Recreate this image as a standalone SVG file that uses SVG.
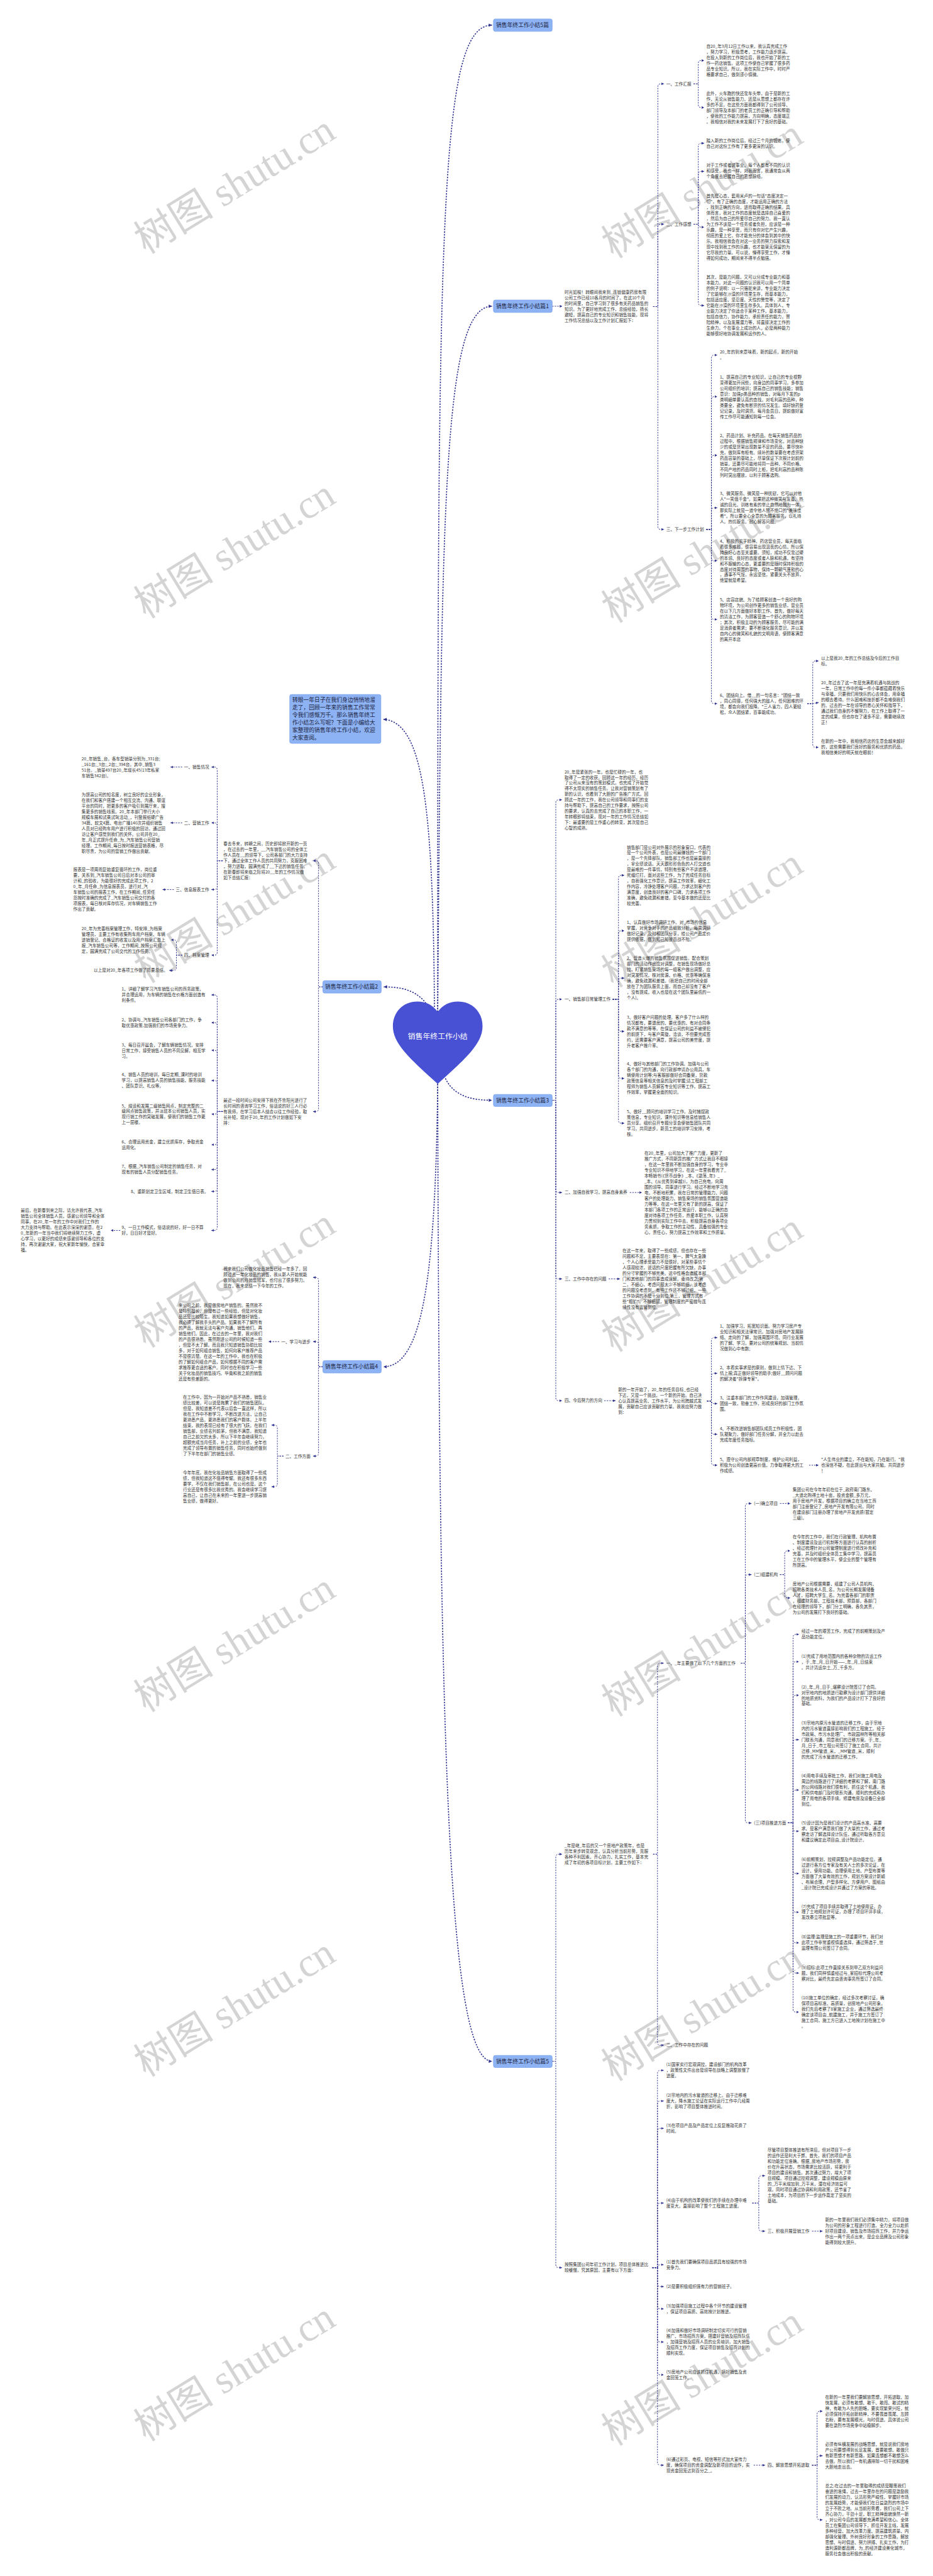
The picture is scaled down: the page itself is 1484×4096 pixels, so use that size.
<svg xmlns="http://www.w3.org/2000/svg" width="1484" height="4096" viewBox="0 0 1484 4096">
<defs>
<style>
.t{font-family:"Noto Sans CJK SC","Noto Sans",sans-serif;font-size:11.5px;fill:#333}
.e{text-anchor:end}
.bx{fill:#8db3f5;stroke:#7ca4ee;stroke-width:1.5}
.bt{font-family:"Noto Sans CJK SC","Noto Sans",sans-serif;font-size:15.2px;fill:#1d2440}
.it{font-family:"Noto Sans CJK SC","Noto Sans",sans-serif;font-size:15.2px;fill:#1d2440}
.c{fill:none;stroke:#2d3190;stroke-width:1.6;stroke-dasharray:4 3;marker-end:url(#a)}
.h{fill:none;stroke:#2d3190;stroke-width:2.8;stroke-dasharray:4 3.5;marker-end:url(#ah)}
.wm{font-family:"Liberation Serif","Noto Sans CJK SC",serif;font-size:110px;fill:#d4d4d4;text-anchor:middle;dominant-baseline:central}
</style>
<marker id="a" markerUnits="userSpaceOnUse" markerWidth="8" markerHeight="8" refX="7" refY="4" orient="auto"><path d="M0,0.5 L7,4 L0,7.5 z" fill="#2d3190"/></marker>
<marker id="ah" markerUnits="userSpaceOnUse" markerWidth="11" markerHeight="11" refX="9" refY="5.5" orient="auto"><path d="M0,1 L9,5.5 L0,10 z" fill="#2d3190"/></marker>
</defs>
<rect width="1484" height="4096" fill="#fff"/>
<g transform="scale(0.579688)">
<g id="watermarks">
<text class="wm" transform="translate(644,506) rotate(-31.5)">树图 shutu.cn</text>
<text class="wm" transform="translate(1927,518) rotate(-31.5)">树图 shutu.cn</text>
<text class="wm" transform="translate(644,1506) rotate(-31.5)">树图 shutu.cn</text>
<text class="wm" transform="translate(1927,1518) rotate(-31.5)">树图 shutu.cn</text>
<text class="wm" transform="translate(644,2506) rotate(-31.5)">树图 shutu.cn</text>
<text class="wm" transform="translate(1927,2518) rotate(-31.5)">树图 shutu.cn</text>
<text class="wm" transform="translate(644,3506) rotate(-31.5)">树图 shutu.cn</text>
<text class="wm" transform="translate(1927,3518) rotate(-31.5)">树图 shutu.cn</text>
<text class="wm" transform="translate(644,4506) rotate(-31.5)">树图 shutu.cn</text>
<text class="wm" transform="translate(1927,4518) rotate(-31.5)">树图 shutu.cn</text>
<text class="wm" transform="translate(644,5506) rotate(-31.5)">树图 shutu.cn</text>
<text class="wm" transform="translate(1927,5518) rotate(-31.5)">树图 shutu.cn</text>
<text class="wm" transform="translate(644,6506) rotate(-31.5)">树图 shutu.cn</text>
<text class="wm" transform="translate(1927,6518) rotate(-31.5)">树图 shutu.cn</text>
</g>

<g id="connectors">
<!-- heart connectors -->
<path class="h" d="M1201 2776 C1201 600 1205 69 1350 69"/>
<path class="h" d="M1201 2776 C1212 1400 1214 840 1350 840"/>
<path class="h" d="M1192 2762 C1188 2200 1160 1980 1052 1973"/>
<path class="h" d="M1169 2752 C1140 2715 1100 2707 1053 2707"/>
<path class="h" d="M1222 2958 C1245 3005 1290 3018 1350 3018"/>
<path class="h" d="M1201 2973 C1195 3500 1160 3749 1052 3749"/>
<path class="h" d="M1201 2973 C1205 4800 1230 5654 1350 5654"/>
<!-- 篇1 -->
<path class="c" d="M1515 840 H1543"/>
<path class="c" d="M1792 841 H1805 V238 Q1805 230 1813 230 H1822"/>
<path class="c" d="M1792 841 H1805 V623 Q1805 615 1813 615 H1822"/>
<path class="c" d="M1792 841 H1805 V1444 Q1805 1452 1813 1452 H1822"/>
<path class="c" d="M1903 230 H1916 V174 Q1916 166 1924 166 H1932"/>
<path class="c" d="M1903 230 H1916 V287 Q1916 295 1924 295 H1932"/>
<path class="c" d="M1903 615 H1916 V401 Q1916 393 1924 393 H1932"/>
<path class="c" d="M1903 615 H1916 V478 Q1916 470 1924 470 H1932"/>
<path class="c" d="M1903 615 H1916 Q1916 623 1924 623 H1932"/>
<path class="c" d="M1903 615 H1916 V830 Q1916 838 1924 838 H1932"/>
<path class="c" d="M1938 1452 H1952 V982 Q1952 974 1960 974 H1968"/>
<path class="c" d="M1938 1452 H1952 V1096 Q1952 1088 1960 1088 H1968"/>
<path class="c" d="M1938 1452 H1952 V1257 Q1952 1249 1960 1249 H1968"/>
<path class="c" d="M1938 1452 H1952 V1401 Q1952 1393 1960 1393 H1968"/>
<path class="c" d="M1938 1452 H1952 V1530 Q1952 1538 1960 1538 H1968"/>
<path class="c" d="M1938 1452 H1952 V1691 Q1952 1699 1960 1699 H1968"/>
<path class="c" d="M1938 1452 H1952 V1922 Q1952 1930 1960 1930 H1968"/>
<path class="c" d="M2215 1930 H2230 V1821 Q2230 1813 2238 1813 H2246"/>
<path class="c" d="M2215 1930 H2230 L2246 1927"/>
<path class="c" d="M2215 1930 H2230 V2042 Q2230 2050 2238 2050 H2246"/>
<!-- 篇3 -->
<path class="c" d="M1515 3018 H1525 V2202 Q1525 2194 1533 2194 H1542"/>
<path class="c" d="M1515 3018 H1525 V2749 Q1525 2741 1533 2741 H1542"/>
<path class="c" d="M1515 3018 H1525 V3263 Q1525 3271 1533 3271 H1542"/>
<path class="c" d="M1515 3018 H1525 V3500 Q1525 3508 1533 3508 H1542"/>
<path class="c" d="M1515 3018 H1525 V3834 Q1525 3842 1533 3842 H1542"/>
<path class="c" d="M1681 2741 H1697 V2409 Q1697 2401 1705 2401 H1713"/>
<path class="c" d="M1681 2741 H1697 V2561 Q1697 2553 1705 2553 H1713"/>
<path class="c" d="M1681 2741 H1697 V2691 Q1697 2683 1705 2683 H1713"/>
<path class="c" d="M1681 2741 H1697 V2821 Q1697 2829 1705 2829 H1713"/>
<path class="c" d="M1681 2741 H1697 V2950 Q1697 2958 1705 2958 H1713"/>
<path class="c" d="M1681 2741 H1697 V3073 Q1697 3081 1705 3081 H1713"/>
<path class="c" d="M1728 3271 H1761"/>
<path class="c" d="M1670 3508 H1701"/>
<path class="c" d="M1658 3842 H1689"/>
<path class="c" d="M1940 3843 H1952 V3677 Q1952 3669 1960 3669 H1968"/>
<path class="c" d="M1940 3843 H1952 V3775 Q1952 3767 1960 3767 H1968"/>
<path class="c" d="M1940 3843 H1952 Q1952 3850 1960 3850 H1968"/>
<path class="c" d="M1940 3843 H1952 V3926 Q1952 3934 1960 3934 H1968"/>
<path class="c" d="M1940 3843 H1952 V4011 Q1952 4019 1960 4019 H1968"/>
<path class="c" d="M2220 4019 H2246"/>
<!-- 篇5 -->
<path class="c" d="M1515 5654 H1525 V5094 Q1525 5086 1533 5086 H1542"/>
<path class="c" d="M1515 5654 H1525 V6212 Q1525 6220 1533 6220 H1542"/>
<path class="c" d="M1792 5086 H1804 V4570 Q1804 4562 1812 4562 H1821"/>
<path class="c" d="M1792 5086 H1804 V5602 Q1804 5610 1812 5610 H1821"/>
<path class="c" d="M2033 4562 H2045 V4132 Q2045 4124 2053 4124 H2062"/>
<path class="c" d="M2033 4562 H2045 V4327 Q2045 4319 2053 4319 H2062"/>
<path class="c" d="M2033 4562 H2045 V4992 Q2045 5000 2053 5000 H2062"/>
<path class="c" d="M2140 4124 H2168"/>
<path class="c" d="M2140 4319 H2153 V4262 Q2153 4254 2161 4254 H2168"/>
<path class="c" d="M2140 4319 H2153 V4375 Q2153 4383 2161 4383 H2168"/>
<path class="c" d="M2162 5000 H2176 V4491 Q2176 4483 2184 4483 H2192"/>
<path class="c" d="M2162 5000 H2176 V4566 Q2176 4558 2184 4558 H2192"/>
<path class="c" d="M2162 5000 H2176 V4658 Q2176 4650 2184 4650 H2192"/>
<path class="c" d="M2162 5000 H2176 V4780 Q2176 4772 2184 4772 H2192"/>
<path class="c" d="M2162 5000 H2176 V4918 Q2176 4910 2184 4910 H2192"/>
<path class="c" d="M2162 5000 H2176 V5015 Q2176 5023 2184 5023 H2192"/>
<path class="c" d="M2162 5000 H2176 V5131 Q2176 5139 2184 5139 H2192"/>
<path class="c" d="M2162 5000 H2176 V5237 Q2176 5245 2184 5245 H2192"/>
<path class="c" d="M2162 5000 H2176 V5321 Q2176 5329 2184 5329 H2192"/>
<path class="c" d="M2162 5000 H2176 V5404 Q2176 5412 2184 5412 H2192"/>
<path class="c" d="M2162 5000 H2176 V5511 Q2176 5519 2184 5519 H2192"/>
<path class="c" d="M1790 6220 H1804 V5687 Q1804 5679 1812 5679 H1821"/>
<path class="c" d="M1790 6220 H1804 V5771 Q1804 5763 1812 5763 H1821"/>
<path class="c" d="M1790 6220 H1804 V5846 Q1804 5838 1812 5838 H1821"/>
<path class="c" d="M1790 6220 H1804 V6051 Q1804 6043 1812 6043 H1821"/>
<path class="c" d="M1790 6220 H1804 Q1804 6212 1812 6212 H1821"/>
<path class="c" d="M1790 6220 H1804 V6264 Q1804 6272 1812 6272 H1821"/>
<path class="c" d="M1790 6220 H1804 V6325 Q1804 6333 1812 6333 H1821"/>
<path class="c" d="M1790 6220 H1804 V6416 Q1804 6424 1812 6424 H1821"/>
<path class="c" d="M1790 6220 H1804 V6506 Q1804 6514 1812 6514 H1821"/>
<path class="c" d="M1790 6220 H1804 V6754 Q1804 6762 1812 6762 H1821"/>
<path class="c" d="M2064 6043 H2082 V5976 Q2082 5968 2090 5968 H2099"/>
<path class="c" d="M2064 6043 H2082 V6112 Q2082 6120 2090 6120 H2099"/>
<path class="c" d="M2228 6120 H2257"/>
<path class="c" d="M2068 6762 H2099"/>
<path class="c" d="M2228 6762 H2242 V6622 Q2242 6614 2250 6614 H2257"/>
<path class="c" d="M2228 6762 H2242 V6744 Q2242 6736 2250 6736 H2257"/>
<path class="c" d="M2228 6762 H2242 V6904 Q2242 6912 2250 6912 H2257"/>
<!-- 篇2 -->
<path class="c" d="M886 2707 H874 V2369 Q874 2361 866 2361 H859"/>
<path class="c" d="M886 2707 H874 V3041 Q874 3049 866 3049 H859"/>
<path class="c" d="M611 2361 H596 V2112 Q596 2104 588 2104 H580"/>
<path class="c" d="M611 2361 H596 V2265 Q596 2257 588 2257 H580"/>
<path class="c" d="M611 2361 H596 V2432 Q596 2440 588 2440 H580"/>
<path class="c" d="M611 2361 H596 V2612 Q596 2620 588 2620 H580"/>
<path class="c" d="M500 2104 H468"/>
<path class="c" d="M500 2257 H468"/>
<path class="c" d="M477 2440 H446"/>
<path class="c" d="M500 2620 H484 V2586 Q484 2578 476 2578 H469"/>
<path class="c" d="M500 2620 H484 V2654 Q484 2662 476 2662 H465"/>
<path class="c" d="M611 3049 H596 V2737 Q596 2729 588 2729 H580"/>
<path class="c" d="M611 3049 H596 V2813 Q596 2805 588 2805 H580"/>
<path class="c" d="M611 3049 H596 V2889 Q596 2881 588 2881 H580"/>
<path class="c" d="M611 3049 H596 V2972 Q596 2964 588 2964 H580"/>
<path class="c" d="M611 3049 H596 Q596 3056 588 3056 H580"/>
<path class="c" d="M611 3049 H596 V3132 Q596 3140 588 3140 H580"/>
<path class="c" d="M611 3049 H596 V3200 Q596 3208 588 3208 H580"/>
<path class="c" d="M611 3049 H596 V3260 Q596 3268 588 3268 H580"/>
<path class="c" d="M611 3049 H596 V3367 Q596 3375 588 3375 H580"/>
<path class="c" d="M330 3375 H304"/>
<!-- 篇4 -->
<path class="c" d="M886 3749 H874 V3512 Q874 3504 866 3504 H859"/>
<path class="c" d="M886 3749 H874 V3688 Q874 3680 866 3680 H859"/>
<path class="c" d="M886 3749 H874 V3986 Q874 3994 866 3994 H859"/>
<path class="c" d="M766 3680 H737"/>
<path class="c" d="M778 3994 H761 V3917 Q761 3909 753 3909 H745"/>
<path class="c" d="M778 3994 H761 V4070 Q761 4078 753 4078 H745"/>
</g>

<g id="center">
<path d="M1201 2776 C1188 2756 1168 2747 1145 2747 C1106 2747 1078 2776 1078 2815 C1078 2862 1122 2902 1201 2973 C1280 2902 1324 2862 1324 2815 C1324 2776 1296 2747 1257 2747 C1234 2747 1214 2756 1201 2776 Z" fill="#4850d4"/>
<text x="1201" y="2849" text-anchor="middle" style="font-family:'Noto Sans CJK SC',sans-serif;font-size:20.5px;fill:#fff">销售年终工作小结</text>
</g>

<g id="intro">
<rect class="bx" x="795" y="1905" width="250" height="134" rx="5"/>
<text class="it"><tspan x="802" y="1926">转眼一年日子在我们身边悄悄地溜</tspan><tspan x="802" dy="20.4">走了，回顾一年来的销售工作常常</tspan><tspan x="802" dy="20.4">令我们感慨万千。那么销售年终工</tspan><tspan x="802" dy="20.4">作小结怎么写呢？下面是小编给大</tspan><tspan x="802" dy="20.4">家整理的销售年终工作小结，欢迎</tspan><tspan x="802" dy="20.4">大家查阅。</tspan></text>
</g>

<g id="branch-top">
<rect class="bx" x="1354" y="52" width="161" height="34" rx="5"/>
<text class="bt" x="1361" y="74.5">销售年终工作小结5篇</text>
</g>

<g id="branch-1">
<rect class="bx" x="1354" y="823" width="161" height="34" rx="5"/>
<text class="bt" x="1361" y="845.5">销售年终工作小结篇1</text>
<text class="t"><tspan x="1549" y="806">时光如梭！转眼间我来到_连锁健康药房有限</tspan><tspan x="1549" dy="15.5">公司工作已经10各月的时间了。在这10个月</tspan><tspan x="1549" dy="15.5">的时间里，自己学习到了很多有关药品销售的</tspan><tspan x="1549" dy="15.5">知识。为了更好地完成工作，总结经验，扬长</tspan><tspan x="1549" dy="15.5">避短，提高自己的专业知识和销售技能，现将</tspan><tspan x="1549" dy="15.5">工作情况总结以及工作计划汇报如下：</tspan></text>
<text class="t" x="1828" y="234">一、工作汇报</text>
<text class="t" x="1828" y="619">二、工作感想</text>
<text class="t" x="1828" y="1456">三、下一步工作计划</text>
<text class="t"><tspan x="1938" y="131">自20_年3月12日工作以来，我认真完成工作</tspan><tspan x="1938" dy="15.5">，努力学习，积极思考，工作能力逐步提高。</tspan><tspan x="1938" dy="15.5">在投入到新的工作岗位后，我也开始了新的工</tspan><tspan x="1938" dy="15.5">作一药店销售。这项工作使自己掌握了很多药</tspan><tspan x="1938" dy="15.5">品专业知识。所以，我在实际工作中，时时严</tspan><tspan x="1938" dy="15.5">格要求自己，做到谨小慎微。</tspan></text>
<text class="t"><tspan x="1938" y="260">此外，火车跑的快还靠车头带，由于是新的工</tspan><tspan x="1938" dy="15.5">作，无论从销售能力，还是从思想上都存在许</tspan><tspan x="1938" dy="15.5">多的不足，在这些方面我都得到了公司领导、</tspan><tspan x="1938" dy="15.5">部门领导及本部门的老员工的正确引导和帮助</tspan><tspan x="1938" dy="15.5">，使我的工作能力提高，方向明确，态度端正</tspan><tspan x="1938" dy="15.5">。我相信对我的未来发展打下了良好的基础。</tspan></text>
<text class="t"><tspan x="1938" y="390">踏入新的工作岗位后，经过三个月的锻炼，使</tspan><tspan x="1938" dy="15.5">自己对这份工作有了更多更深的认识。</tspan></text>
<text class="t"><tspan x="1938" y="458">对于工作或者说事业，每个人都有不同的认识</tspan><tspan x="1938" dy="15.5">和感受，我也一样。对我而言，我通常会从两</tspan><tspan x="1938" dy="15.5">个角度去把握自己的思想脉络。</tspan></text>
<text class="t"><tspan x="1938" y="542">首先是心态，套用米卢的一句话"态度决定一</tspan><tspan x="1938" dy="15.5">切"，有了正确的态度，才能运用正确的方法</tspan><tspan x="1938" dy="15.5">，找到正确的方向，进而取得正确的结果。具</tspan><tspan x="1938" dy="15.5">体而言，我对工作的态度就是选择自己喜爱的</tspan><tspan x="1938" dy="15.5">，然后为自己的所爱尽自己的努力。我一直认</tspan><tspan x="1938" dy="15.5">为工作不该是一个任务或者负担，应该是一种</tspan><tspan x="1938" dy="15.5">乐趣，是一种享受，而只有你对它产生兴趣，</tspan><tspan x="1938" dy="15.5">彻底的爱上它，你才能充分的体会到其中的快</tspan><tspan x="1938" dy="15.5">乐。我相信我会在对这一业务的努力探索和发</tspan><tspan x="1938" dy="15.5">现中找到我工作的乐趣，也才能毫无保留的为</tspan><tspan x="1938" dy="15.5">它尽我的力量。可以说，懂得享受工作，才懂</tspan><tspan x="1938" dy="15.5">得如何成功，期间来不得半点勉强。</tspan></text>
<text class="t"><tspan x="1938" y="764">其次，是能力问题，又可以分成专业能力和基</tspan><tspan x="1938" dy="15.5">本能力。对这一问题的认识我可以用一个简单</tspan><tspan x="1938" dy="15.5">的例子说明：以一只骆驼来讲，专业能力决定</tspan><tspan x="1938" dy="15.5">了它能够在沙漠的环境里生存，而基本能力，</tspan><tspan x="1938" dy="15.5">包括适应度、坚忍度、天性的警觉等，决定了</tspan><tspan x="1938" dy="15.5">它能在沙漠的环境里生存多久。具体到人，专</tspan><tspan x="1938" dy="15.5">业能力决定了你适合于某种工作，基本能力，</tspan><tspan x="1938" dy="15.5">包括自信力，协作能力，承担责任的能力，冒</tspan><tspan x="1938" dy="15.5">险精神，以及发展潜力等，将直接决定工作的</tspan><tspan x="1938" dy="15.5">生命力。个在事业上成功的人，必是两种能力</tspan><tspan x="1938" dy="15.5">能够很好地协调发展和运作的人。</tspan></text>
<text class="t"><tspan x="1975" y="970">20_年的到来意味着，新的起点，新的开始</tspan><tspan x="1975" dy="15.5">。</tspan></text>
<text class="t"><tspan x="1975" y="1038">1、提高自己的专业知识，让自己的专业视野</tspan><tspan x="1975" dy="15.5">变得更加开阔些，向身边的同事学习，多参加</tspan><tspan x="1975" dy="15.5">公司组织的培训；提高自己的销售技能；销售</tspan><tspan x="1975" dy="15.5">意识：加强p类品种的销售，对每月下发的p</tspan><tspan x="1975" dy="15.5">类明细单要认真的查找。对毛利高的品种，种</tspan><tspan x="1975" dy="15.5">类要全，避免有断货的情况发生。填好缺药登</tspan><tspan x="1975" dy="15.5">记记录，及时调货。每月会员日，提前做好宣</tspan><tspan x="1975" dy="15.5">传工作尽可能通知到每一位会。</tspan></text>
<text class="t"><tspan x="1975" y="1199">2、药品计划、补充药品。在每天销售药品的</tspan><tspan x="1975" dy="15.5">过程中，根据销售规律和市场变化，对品种缺</tspan><tspan x="1975" dy="15.5">少的或是货架出现数量不足的药品，要尽快补</tspan><tspan x="1975" dy="15.5">充，做到库有柜有。续补的数量要在考虑货架</tspan><tspan x="1975" dy="15.5">药品容量的基础上，尽量保证下次报计划前的</tspan><tspan x="1975" dy="15.5">销量。还要尽可能地将同一品种、不同价格、</tspan><tspan x="1975" dy="15.5">不同产地的药品同时上柜，把毛利高的品种陈</tspan><tspan x="1975" dy="15.5">列时突出摆放，以利于顾客选购。</tspan></text>
<text class="t"><tspan x="1975" y="1358">3、微笑服务、微笑是一种抚慰，它可以对他</tspan><tspan x="1975" dy="15.5">人"一笑值千金"。如果把这种微笑与友善、热</tspan><tspan x="1975" dy="15.5">诚的目光、训练有素的举止自然地融为一体，</tspan><tspan x="1975" dy="15.5">那实际上就是一道令他人赞不绝口的"美味佳</tspan><tspan x="1975" dy="15.5">肴"。所以要全心全意的为顾客服务，以礼待</tspan><tspan x="1975" dy="15.5">人。热情服务。耐心解答问题。</tspan></text>
<text class="t"><tspan x="1975" y="1488">4、积极的实干精神。药店营业员，每天面临</tspan><tspan x="1975" dy="15.5">着很多难题，很容易出现沮丧的心情，所以保</tspan><tspan x="1975" dy="15.5">持良好心态至关重要。须知，成功不仅靠过硬</tspan><tspan x="1975" dy="15.5">的本领、良好的态度或者人脉和机遇，有坚持</tspan><tspan x="1975" dy="15.5">和不服输的心态，更重要的是随时保持积极的</tspan><tspan x="1975" dy="15.5">态度对待周围的事物，保持一颗朝气蓬勃的心</tspan><tspan x="1975" dy="15.5">，遇事不气馁，永远坚信，紧要关头不放弃，</tspan><tspan x="1975" dy="15.5">绝望就是希望。</tspan></text>
<text class="t"><tspan x="1975" y="1649">5、店容店貌、为了给顾客创造一个良好的购</tspan><tspan x="1975" dy="15.5">物环境，为公司创作更多的销售业绩，营业员</tspan><tspan x="1975" dy="15.5">在以下几方面做好本职工作。首先，做好每天</tspan><tspan x="1975" dy="15.5">的清洁工作，为顾客营造一个舒心的购物环境</tspan><tspan x="1975" dy="15.5">；其次，积极主动的为顾客服务，尽可能的满</tspan><tspan x="1975" dy="15.5">足消费者需求；要不断强化服务意识，并以发</tspan><tspan x="1975" dy="15.5">自内心的微笑和礼貌的文明用语，使顾客满意</tspan><tspan x="1975" dy="15.5">的离开本店</tspan></text>
<text class="t"><tspan x="1975" y="1911">6、团结向上。借__的一句名言："团结一致</tspan><tspan x="1975" dy="15.5">，同心同德，任何强大的敌人，任何困难的环</tspan><tspan x="1975" dy="15.5">境，都会向我们投降。"三人省力，四人更轻</tspan><tspan x="1975" dy="15.5">松，众人团结紧，百事能成功。</tspan></text>
<text class="t"><tspan x="2253" y="1809">以上是我20_年的工作总结及今后的工作目</tspan><tspan x="2253" dy="15.5">标。</tspan></text>
<text class="t"><tspan x="2253" y="1877">20_年过去了这一年是充满着机遇与挑战的</tspan><tspan x="2253" dy="15.5">一年，日常工作中的每一件小事都蕴藏着快乐</tspan><tspan x="2253" dy="15.5">与幸福，只要我们用快乐的心去体会，用幸福</tspan><tspan x="2253" dy="15.5">的眼去看待。什么困难和挫折都不会难倒我们</tspan><tspan x="2253" dy="15.5">的。过去的一年在领导的悉心关怀和指导下，</tspan><tspan x="2253" dy="15.5">通过我们自身的不懈努力，在工作上取得了一</tspan><tspan x="2253" dy="15.5">定的成果，但也存在了诸多不足，需要继续改</tspan><tspan x="2253" dy="15.5">正！</tspan></text>
<text class="t"><tspan x="2253" y="2038">在新的一年中，我相信药店的生意会越来越好</tspan><tspan x="2253" dy="15.5">的，这些需要我们良好的服务和优质的药品，</tspan><tspan x="2253" dy="15.5">我相信美好的明天就在眼前！</tspan></text>
</g>

<g id="branch-3">
<rect class="bx" x="1354" y="3002" width="161" height="33" rx="5"/>
<text class="bt" x="1361" y="3024">销售年终工作小结篇3</text>
<text class="t"><tspan x="1549" y="2121">20_年是紧张的一年，也是忙碌的一年，也</tspan><tspan x="1549" dy="15.5">取得了一定的收获。回顾这一年的经历，经历</tspan><tspan x="1549" dy="15.5">了公司从来没有的策划模式，也完成了开始觉</tspan><tspan x="1549" dy="15.5">得不太现实的销售任务。让我对营销策划有了</tspan><tspan x="1549" dy="15.5">新的认识，也看到了大胆的广告推广方式。回</tspan><tspan x="1549" dy="15.5">顾这一年的工作，我在公司领导和同事们的支</tspan><tspan x="1549" dy="15.5">持与帮助下，提高自己的工作要求，按照公司</tspan><tspan x="1549" dy="15.5">的要求，认真的去完成了自己的本职工作，一</tspan><tspan x="1549" dy="15.5">年转眼即将结束，现对一年的工作情况总结如</tspan><tspan x="1549" dy="15.5">下：最重要的是工作重心的转变，其次是自己</tspan><tspan x="1549" dy="15.5">心智的成熟。</tspan></text>
<text class="t" x="1549" y="2745">一、销售部日常管理工作</text>
<text class="t" x="1549" y="3275">二、加强自我学习，提高自身素养</text>
<text class="t" x="1549" y="3512">三、工作中存在的问题</text>
<text class="t" x="1549" y="3846">四、今后努力的方向</text>
<text class="t"><tspan x="1720" y="2328">销售部门是公司对外展示的形象窗口，代表的</tspan><tspan x="1720" dy="15.5">是一个公司外表，也是公司最赚钱的一个部门</tspan><tspan x="1720" dy="15.5">，是一个先锋部队。销售部工作也是最直接的</tspan><tspan x="1720" dy="15.5">，拿业绩说话。天天跟形形色色的人打交道也</tspan><tspan x="1720" dy="15.5">是最难的一件事情，特别有些客户不讲道理，</tspan><tspan x="1720" dy="15.5">死缠烂打。面对这些工作，为了完成任务目标</tspan><tspan x="1720" dy="15.5">，自我强化工作意识，提高工作效率，细化工</tspan><tspan x="1720" dy="15.5">作内容，冷静处理客户问题，力求达到客户的</tspan><tspan x="1720" dy="15.5">满意度，创造良好的客户口碑，力求各项工作</tspan><tspan x="1720" dy="15.5">准确，避免疏漏和差错，至今基本做的还是比</tspan><tspan x="1720" dy="15.5">较完善。</tspan></text>
<text class="t"><tspan x="1720" y="2534">1、认真做好市场调研工作。对_市场的信息</tspan><tspan x="1720" dy="15.5">掌握，对竞争对手的产品细致分析，每周调研</tspan><tspan x="1720" dy="15.5">做好记录，及时和团队分享，给公司产品定价</tspan><tspan x="1720" dy="15.5">提供依据，做到知己知彼百战不殆。</tspan></text>
<text class="t"><tspan x="1720" y="2633">2、营造火爆的销售氛围促进销售。配合策划</tspan><tspan x="1720" dy="15.5">部门的活动作出应对调整，在销售现场做好总</tspan><tspan x="1720" dy="15.5">控，盯紧销售案场的每一组客户做出调整，应</tspan><tspan x="1720" dy="15.5">对突发情况，核对房源、价格、优惠等确保准</tspan><tspan x="1720" dy="15.5">确，避免疏漏和差错。(我把自己的时间全部</tspan><tspan x="1720" dy="15.5">放在了为团队服务上面，而自己却没有了客户</tspan><tspan x="1720" dy="15.5">，没有提成，收入也是在这个团队里最低的一</tspan><tspan x="1720" dy="15.5">个人)。</tspan></text>
<text class="t"><tspan x="1720" y="2794">3、做好客户问题的处理。客户多了什么样的</tspan><tspan x="1720" dy="15.5">情况都有，要退房的、要优惠的、有对合同条</tspan><tspan x="1720" dy="15.5">款不满意的等等。在保证公司的利益不被侵犯</tspan><tspan x="1720" dy="15.5">的前提下，与客户周旋，洽谈，不但要完成签</tspan><tspan x="1720" dy="15.5">约，还需要客户满意，提高公司的美誉度，提</tspan><tspan x="1720" dy="15.5">升老客户推介率。</tspan></text>
<text class="t"><tspan x="1720" y="2923">4、做好与其他部门的工作协调。加强与公司</tspan><tspan x="1720" dy="15.5">各个部门的沟通，向行政部申请办公用具，车</tspan><tspan x="1720" dy="15.5">辆使用计划等;与客服部做好合同备案，贷款</tspan><tspan x="1720" dy="15.5">政策信息等相关信息的及时掌握;请工程部工</tspan><tspan x="1720" dy="15.5">程师为销售人员解答专业知识等工作，提高工</tspan><tspan x="1720" dy="15.5">作效率，掌握更全面的知识。</tspan></text>
<text class="t"><tspan x="1720" y="3054">5、做好__顾问的培训学习工作。及时捕捉政</tspan><tspan x="1720" dy="15.5">策信息，专业知识，课外知识等信息给销售人</tspan><tspan x="1720" dy="15.5">员分享。组织召开专题分享会使销售团队共同</tspan><tspan x="1720" dy="15.5">学习，共同进步。新员工的培训学习安排，考</tspan><tspan x="1720" dy="15.5">核。</tspan></text>
<text class="t"><tspan x="1768" y="3167">在20_年里，公司加大了推广力度，更新了</tspan><tspan x="1768" dy="15.5">推广方式，不同新异的推广方式让我目不暇接</tspan><tspan x="1768" dy="15.5">，在这一年里我不断加强自身的学习，专业非</tspan><tspan x="1768" dy="15.5">专业知识不停地学习，在这一年里我看完了_</tspan><tspan x="1768" dy="15.5">本畅销书(《货币战争》_本、《激荡_年》_</tspan><tspan x="1768" dy="15.5">_本、《从优秀到卓越》)，为自己充电。向周</tspan><tspan x="1768" dy="15.5">围的领导、同事进行学习。经过不断地学习充</tspan><tspan x="1768" dy="15.5">电，不断地积累，我在日常的管理能力、问题</tspan><tspan x="1768" dy="15.5">客户的处理能力、销售案场的销售氛围营造能</tspan><tspan x="1768" dy="15.5">力等等，在这一年里又有了新的提高，保证了</tspan><tspan x="1768" dy="15.5">本部门各项工作的正常运行，能够以正确的态</tspan><tspan x="1768" dy="15.5">度对待各项工作任务，热爱本职工作，认真努</tspan><tspan x="1768" dy="15.5">力贯彻到实际工作中去。积极提高自身各项业</tspan><tspan x="1768" dy="15.5">务素质，争取工作的主动性，具备较强的专业</tspan><tspan x="1768" dy="15.5">心，责任心，努力提高工作效率和工作质量。</tspan></text>
<text class="t"><tspan x="1708" y="3435">在这一年来，取得了一些成绩，但也存在一些</tspan><tspan x="1708" dy="15.5">问题和不足，主要表现在：第一，脾气太急躁</tspan><tspan x="1708" dy="15.5">，个人心理承受能力不是很好，对某些事情个</tspan><tspan x="1708" dy="15.5">人感观较浓，说话的尺度把握有所欠缺，办事</tspan><tspan x="1708" dy="15.5">的分寸掌握的不够完美。这中性格会造成本部</tspan><tspan x="1708" dy="15.5">门和其他部门的同事造成误解，亟待改之;第</tspan><tspan x="1708" dy="15.5">二，不细心，考虑问题太少不够精细，该考虑</tspan><tspan x="1708" dy="15.5">的问题没考虑到，有些工作还不够过细，一些</tspan><tspan x="1708" dy="15.5">工作协调的不是十分到位;第三，管理方式有</tspan><tspan x="1708" dy="15.5">些"粗犷"，不够细腻，管理制度的严密性与连</tspan><tspan x="1708" dy="15.5">续性没有监管到位。</tspan></text>
<text class="t"><tspan x="1696" y="3816">新的一年开始了，20_年的任务目标_也已经</tspan><tspan x="1696" dy="15.5">下达，又是一个挑战，一个新的开始。自己决</tspan><tspan x="1696" dy="15.5">心认真提高业务、工作水平，为公司跨越式发</tspan><tspan x="1696" dy="15.5">展，贡献自己应该贡献的力量。我我应努力做</tspan><tspan x="1696" dy="15.5">到：</tspan></text>
<text class="t"><tspan x="1975" y="3642">1、加强学习，拓宽知识面。努力学习房产专</tspan><tspan x="1975" dy="15.5">业知识和相关法律常识。加强对房地产发展脉</tspan><tspan x="1975" dy="15.5">络、走向的了解，加强周围环境、同行业发展</tspan><tspan x="1975" dy="15.5">的了解、学习，要对公司的统筹规划、当前情</tspan><tspan x="1975" dy="15.5">况做到心中有数;</tspan></text>
<text class="t"><tspan x="1975" y="3756">2、本着实事求是的原则，做到上情下达、下</tspan><tspan x="1975" dy="15.5">情上报;真正做好领导的助手;做好__顾问问题</tspan><tspan x="1975" dy="15.5">的解决者"拆弹专家"。</tspan></text>
<text class="t"><tspan x="1975" y="3839">3、注重本部门的工作作风建设，加强管理，</tspan><tspan x="1975" dy="15.5">团结一致，勤奋工作，形成良好的部门工作氛</tspan><tspan x="1975" dy="15.5">围。</tspan></text>
<text class="t"><tspan x="1975" y="3923">4、不断改进销售部团队成员工作积极性，团</tspan><tspan x="1975" dy="15.5">队凝聚力，做好部门任务分解，并全力以赴去</tspan><tspan x="1975" dy="15.5">完成年度任务指标。</tspan></text>
<text class="t"><tspan x="1975" y="4007">5、遵守公司内部规章制度，维护公司利益，</tspan><tspan x="1975" dy="15.5">积极为公司创造更高价值，力争取得更大的工</tspan><tspan x="1975" dy="15.5">作成绩。</tspan></text>
<text class="t"><tspan x="2253" y="4007">"人生伟业的建立，不在能知，乃在能行。"我</tspan><tspan x="2253" dy="15.5">也深信不疑，在此提出与大家共勉，共同进步</tspan><tspan x="2253" dy="15.5">！</tspan></text>
</g>

<g id="branch-5">
<rect class="bx" x="1354" y="5638" width="161" height="33" rx="5"/>
<text class="bt" x="1361" y="5660">销售年终工作小结篇5</text>
<text class="t"><tspan x="1549" y="5067">_年是继_年后的又一个房地产政策年，也是</tspan><tspan x="1549" dy="15.5">历年来步转变观念，认真分析当前形势，克服</tspan><tspan x="1549" dy="15.5">各种不利因素，齐心协力、扎实工作，基本完</tspan><tspan x="1549" dy="15.5">成了年初的各项目标计划，主要工作如下：</tspan></text>
<text class="t"><tspan x="1549" y="6216">按照集团公司年初工作计划，项目总体推进比</tspan><tspan x="1549" dy="15.5">较缓慢。究其原因，主要有以下方面：</tspan></text>
<text class="t" x="1828" y="4566">一、_年主要做了以下几个方面的工作</text>
<text class="t" x="1828" y="5614">二、工作中存在的问题</text>
<text class="t" x="2069" y="4128">(一)确立项目</text>
<text class="t" x="2069" y="4323">(二)组建机构</text>
<text class="t" x="2069" y="5004">(三)项目推进方面</text>
<text class="t"><tspan x="2175" y="4090">集团公司在今年年初在位于_政府南门路东、</tspan><tspan x="2175" dy="15.5">_大道北购得土地十亩，投资金额_多万元，</tspan><tspan x="2175" dy="15.5">用于房地产开发，根据项目的确立在当地工商</tspan><tspan x="2175" dy="15.5">部门注册登记了_房地产开发有限公司，同时</tspan><tspan x="2175" dy="15.5">在建设部门注册办理了房地产开发资质(暂定</tspan><tspan x="2175" dy="15.5">三级)。</tspan></text>
<text class="t"><tspan x="2175" y="4220">在今年的工作中，我们在行政管理、机构布置</tspan><tspan x="2175" dy="15.5">、制度建设及运行机制等方面进行认真的剖析</tspan><tspan x="2175" dy="15.5">、经过梳理针对公司管理制度进行修改补充和</tspan><tspan x="2175" dy="15.5">完善，并及时组织全体员工集中学习，提高员</tspan><tspan x="2175" dy="15.5">工在工作中的管理水平，使企业的整个管理有</tspan><tspan x="2175" dy="15.5">所提高。</tspan></text>
<text class="t"><tspan x="2175" y="4349">房地产公司根据需要，组建了公司人员机构，</tspan><tspan x="2175" dy="15.5">招聘各类技术人员_名，为公司长期发展储备</tspan><tspan x="2175" dy="15.5">人才，招聘大学生_名。为完善各部门的职责</tspan><tspan x="2175" dy="15.5">，组建财务部、工程技术部、预算部，各部门</tspan><tspan x="2175" dy="15.5">在经理的领导下，部门分工明确，各负其责，</tspan><tspan x="2175" dy="15.5">为公司的发展打下良好的基础。</tspan></text>
<text class="t"><tspan x="2199" y="4479">经过一年的艰苦工作，完成了的前期策划及产</tspan><tspan x="2199" dy="15.5">品功能定位。</tspan></text>
<text class="t"><tspan x="2199" y="4547">(1)完成了用地范围内的各种杂物的清运工作</tspan><tspan x="2199" dy="15.5">，于_年_月_日开始——_年_月_日结束</tspan><tspan x="2199" dy="15.5">。共计清运杂土_万_千多方。</tspan></text>
<text class="t"><tspan x="2199" y="4631">(2)_年_月_日于_堪察设计院签订了合同。</tspan><tspan x="2199" dy="15.5">对宗地内的地质进行勘察为设计部门提供详细</tspan><tspan x="2199" dy="15.5">的地质资料，为我们的产品设计打下了良好的</tspan><tspan x="2199" dy="15.5">基础。</tspan></text>
<text class="t"><tspan x="2199" y="4730">(3)宗地内原污水管道的迁移工作，由于宗地</tspan><tspan x="2199" dy="15.5">内的污水管道直接影响我们的工程施工。经于</tspan><tspan x="2199" dy="15.5">市政局、市污水处理厂、市政园林所等相关部</tspan><tspan x="2199" dy="15.5">门联系沟通，同意我们的迁移方案。于_年_</tspan><tspan x="2199" dy="15.5">月_日于_市工程公司签订了施工合同，共计</tspan><tspan x="2199" dy="15.5">迁移_MM管道_米，_MM管道_米，顺利</tspan><tspan x="2199" dy="15.5">的完成了污水管道的迁移工作。</tspan></text>
<text class="t"><tspan x="2199" y="4875">(4)用电手续及审批工作，我们对施工用电及</tspan><tspan x="2199" dy="15.5">周边的线路进行了详细的考察和了解，南门路</tspan><tspan x="2199" dy="15.5">的公网线路对我们很有利，抓住这个机遇，我</tspan><tspan x="2199" dy="15.5">们和供电部门及时联系沟通，顺利的完成和办</tspan><tspan x="2199" dy="15.5">理了用电的各项手续。修建电房及设备已全部</tspan><tspan x="2199" dy="15.5">到位。</tspan></text>
<text class="t"><tspan x="2199" y="5004">(5)设计因为是我们设计的产品高水准、高要</tspan><tspan x="2199" dy="15.5">求、是客户满意我们做了大量的工作，通过考</tspan><tspan x="2199" dy="15.5">察走访了解选择设计队伍，通过听取各方意见</tspan><tspan x="2199" dy="15.5">和建议确定此项目由_设计院设计。</tspan></text>
<text class="t"><tspan x="2199" y="5104">(6)前期策划，控规调整及产品功能定位。通</tspan><tspan x="2199" dy="15.5">过进行各方位专家及有关人士的多次论证，在</tspan><tspan x="2199" dy="15.5">设计、使用功能、合理使用土地、户型布置等</tspan><tspan x="2199" dy="15.5">方面做了大量有效的工作，规划方案设计新颖</tspan><tspan x="2199" dy="15.5">、布局合理、户型多样化、方便用户。图纸由</tspan><tspan x="2199" dy="15.5">_设计院已完成设计并通过了方案的审批。</tspan></text>
<text class="t"><tspan x="2199" y="5233">(7)完成了项目手续并取得了土地使用证。办</tspan><tspan x="2199" dy="15.5">理了土地规划许可证，办理了项目环评手续，</tspan><tspan x="2199" dy="15.5">发改委立项批复等。</tspan></text>
<text class="t"><tspan x="2199" y="5317">(8)监理:监理是施工的一项重要环节，我们对</tspan><tspan x="2199" dy="15.5">此项工作非常重视慎重选择，通过筛选于_世</tspan><tspan x="2199" dy="15.5">监理有限公司签订了合同。</tspan></text>
<text class="t"><tspan x="2199" y="5401">(9)招标:此项工作直接关系到甲乙双方利益问</tspan><tspan x="2199" dy="15.5">题，我们同样慎重经过与_家招标代理公司考</tspan><tspan x="2199" dy="15.5">察对比，最终先定由咨询事务所签订了合同。</tspan></text>
<text class="t"><tspan x="2199" y="5484">(10)施工单位的确定，经过多次考察讨证，确</tspan><tspan x="2199" dy="15.5">保项目高标准、高质量，创房地产公司形象。</tspan><tspan x="2199" dy="15.5">我们先后考察了8家施工企业，通过筛选最终</tspan><tspan x="2199" dy="15.5">确定该项目由_航建施工，并于施工方签订了</tspan><tspan x="2199" dy="15.5">施工合同，施工方已进入工地按计划在施工中</tspan><tspan x="2199" dy="15.5">。</tspan></text>
<text class="t"><tspan x="1828" y="5667">(1)国家实行宏观调控，建设部门的机构改革</tspan><tspan x="1828" dy="15.5">，政策性文件出台是领导在战略上调整放慢了</tspan><tspan x="1828" dy="15.5">进度。</tspan></text>
<text class="t"><tspan x="1828" y="5751">(2)宗地内的污水管道的迁移上。由于迁移难</tspan><tspan x="1828" dy="15.5">度大，降水施工论证在实际运行工作中几经周</tspan><tspan x="1828" dy="15.5">折，影响了项目整体推进时间。</tspan></text>
<text class="t"><tspan x="1828" y="5834">(3)在项目产品及产品定位上反复推敲花费了</tspan><tspan x="1828" dy="15.5">时间。</tspan></text>
<text class="t"><tspan x="1828" y="6039">(4)由于机构的改革使我们的手续在办理中难</tspan><tspan x="1828" dy="15.5">度变大，直接影响了整个工程施工进度。</tspan></text>
<text class="t"><tspan x="1828" y="6208">(1)首先我们要确保项目品质具有较强的市场</tspan><tspan x="1828" dy="15.5">竞争力。</tspan></text>
<text class="t" x="1828" y="6276">(2)是要积极组织强有力的营销班子。</text>
<text class="t"><tspan x="1828" y="6329">(3)加强项目施工过程中各个环节的建设管理</tspan><tspan x="1828" dy="15.5">，保证项目高质、高效按计划推进。</tspan></text>
<text class="t"><tspan x="1828" y="6397">(4)加强和做好市场调研制定切实可行的营销</tspan><tspan x="1828" dy="15.5">推广、市场招商方案，搭建好营销及招商队伍</tspan><tspan x="1828" dy="15.5">，加强营销及招商人员的业务培训，加大销售</tspan><tspan x="1828" dy="15.5">及招商工作力度，保证项目销售及招商计划的</tspan><tspan x="1828" dy="15.5">顺利实现。</tspan></text>
<text class="t"><tspan x="1828" y="6511">(5)房地产公司应该抓住机遇，搞好销售及资</tspan><tspan x="1828" dy="15.5">金回笼工作。</tspan></text>
<text class="t"><tspan x="1828" y="6750">(6)通过彩页、电视、短信等形式加大宣传力</tspan><tspan x="1828" dy="15.5">度，确保项目的资金调配及新项目的运作，实</tspan><tspan x="1828" dy="15.5">现资金回笼达到百分之_。</tspan></text>
<text class="t"><tspan x="2106" y="5902">尽管项目整体推进有所滞后，但对项目下一步</tspan><tspan x="2106" dy="15.5">的运作还是利大于弊。首先，我们的项目产品</tspan><tspan x="2106" dy="15.5">和功能定位准确。根据_房地产市场形势，房</tspan><tspan x="2106" dy="15.5">价在升高状态，市场需求比较活跃，将更利于</tspan><tspan x="2106" dy="15.5">项目的建设和销售。其次通过努力，增大了项</tspan><tspan x="2106" dy="15.5">目规模。项目通过控规调整，建设规模由原来</tspan><tspan x="2106" dy="15.5">的_万平米增加到_万平米，潜在经济效益可</tspan><tspan x="2106" dy="15.5">观。同时项目通过协调和利用政策，还节省了</tspan><tspan x="2106" dy="15.5">土地成本，为项目的下一步运作奠定了坚实的</tspan><tspan x="2106" dy="15.5">基础。</tspan></text>
<text class="t" x="2106" y="6124">三、积极开展营销工作</text>
<text class="t"><tspan x="2264" y="6093">新的一年里我们我们必须集中精力，将项目做</tspan><tspan x="2264" dy="15.5">为公司的形象工程进行打造。全力全力以赴抓</tspan><tspan x="2264" dy="15.5">好项目建设、销售及市场招商工作，并力争运</tspan><tspan x="2264" dy="15.5">作出一两个亮点出来，是企业品牌及公司形象</tspan><tspan x="2264" dy="15.5">能得到较大提升。</tspan></text>
<text class="t" x="2106" y="6766">四、解放思想开拓进取</text>
<text class="t"><tspan x="2264" y="6579">在新的一年里我们要解放思想，开拓进取、加</tspan><tspan x="2264" dy="15.5">快发展，必须有敢想、敢干、敢闯、敢试的精</tspan><tspan x="2264" dy="15.5">神，有敢为人先的胆略，要实现繁荣兴旺，就</tspan><tspan x="2264" dy="15.5">必须保持开拓创新精神，不要畏首畏尾、左顾</tspan><tspan x="2264" dy="15.5">右盼，要有发展眼光，与时俱进。具体说公司</tspan><tspan x="2264" dy="15.5">要在激烈市场竞争中站稳脚步。</tspan></text>
<text class="t"><tspan x="2264" y="6709">必须有纵横发展的战略思想，就是说我们房地</tspan><tspan x="2264" dy="15.5">产公司要想得到长足发展，首要敢想、敢做只</tspan><tspan x="2264" dy="15.5">有新思想才有新思路，如果连想都不敢想怎么</tspan><tspan x="2264" dy="15.5">去做。所以我们一有机遇排除一切干扰和困难</tspan><tspan x="2264" dy="15.5">大胆地走出去。</tspan></text>
<text class="t"><tspan x="2264" y="6823">总之:在过去的一年里取得的成绩是鞭策我们</tspan><tspan x="2264" dy="15.5">奋进的准绳，过去一年里存在的问题是激励我</tspan><tspan x="2264" dy="15.5">们发展的动力，认清形势严峻性，掌握好市场</tspan><tspan x="2264" dy="15.5">的发展趋势，才能使我们在日益激烈的市场中</tspan><tspan x="2264" dy="15.5">立于不败之地。从当前形势看，我们公司上下</tspan><tspan x="2264" dy="15.5">齐心协力，干劲十足，职工精神面貌焕然一新</tspan><tspan x="2264" dy="15.5">，对公司今后的发展都充满希望和信心。全体</tspan><tspan x="2264" dy="15.5">员工在集团公司领导下，抓住开发主线，发展</tspan><tspan x="2264" dy="15.5">多种经营、加大改革力度、提高建筑质量、内</tspan><tspan x="2264" dy="15.5">部强化管理、外树良好形象的工作思路，解放</tspan><tspan x="2264" dy="15.5">思想、与时俱进、努力拼搏、扎实工作，为打</tspan><tspan x="2264" dy="15.5">造利源新都品牌，为_的经济建设美化城市，</tspan><tspan x="2264" dy="15.5">服务社会做出积极的贡献。</tspan></text>
</g>

<g id="branch-2">
<rect class="bx" x="886" y="2690" width="160" height="34" rx="5"/>
<text class="bt" x="892" y="2712.5">销售年终工作小结篇2</text>
<text class="t"><tspan x="613" y="2319">春去冬来，转瞬之间，历史即将掀开新的一页</tspan><tspan x="613" dy="15.5">，在过去的一年里，__汽车销售公司的全体工</tspan><tspan x="613" dy="15.5">作人员在__的领导下，公司各部门的大力支持</tspan><tspan x="613" dy="15.5">下，通过全体工作人员的共同努力，克服困难</tspan><tspan x="613" dy="15.5">，努力进取，圆满完成了__下达的销售任务。</tspan><tspan x="613" dy="15.5">在新春即将来临之际将20__年的工作情况做</tspan><tspan x="613" dy="15.5">如下总结汇报：</tspan></text>
<text class="t e" x="574" y="2108">一、销售情况</text>
<text class="t e" x="574" y="2261">二、营销工作</text>
<text class="t e" x="574" y="2444">三、信息报表工作</text>
<text class="t e" x="574" y="2624">四、档案管理</text>
<text class="t"><tspan x="224" y="2085">20_年销售_台，各车型销量分别为_331台;</tspan><tspan x="224" dy="15.5">_161台;_3台;_2台;_394台。其中_销售3</tspan><tspan x="224" dy="15.5">51台。_销量497台20_年增长45(13年私家</tspan><tspan x="224" dy="15.5">车销售342台)。</tspan></text>
<text class="t"><tspan x="224" y="2184">为提高公司的知名度，树立良好的企业形象，</tspan><tspan x="224" dy="15.5">在我们和客户搭建一个相互交流、沟通、联谊</tspan><tspan x="224" dy="15.5">平台的同时，把更多的客户吸引到展厅来，搜</tspan><tspan x="224" dy="15.5">集更多的销售线索。20_年本部门举行大小</tspan><tspan x="224" dy="15.5">规模车展和试乘试驾活动_，刊登报纸硬广告</tspan><tspan x="224" dy="15.5">34篇、软文4篇、电台广播140次并组织销售</tspan><tspan x="224" dy="15.5">人员对已经购车用户进行积极的回访，通过回</tspan><tspan x="224" dy="15.5">访让客户感觉到我们的关怀。公司并在20_</tspan><tspan x="224" dy="15.5">年_月正式提升任命_为_汽车销售公司营销</tspan><tspan x="224" dy="15.5">经理。工作期间_每日按时报送营销表格，尽</tspan><tspan x="224" dy="15.5">职尽责，为公司的营销工作做出贡献。</tspan></text>
<text class="t"><tspan x="201" y="2390">报表是一项周而复始重复循环的工作，岗位重</tspan><tspan x="201" dy="15.5">要，关系到_汽车销售公司日后对本公司的审</tspan><tspan x="201" dy="15.5">计和_的验收，为能很好的完成此项工作，2</tspan><tspan x="201" dy="15.5">0_年_月任命_为信息报表员，进行对_汽</tspan><tspan x="201" dy="15.5">车销售公司的报表工作，在工作期间_任劳任</tspan><tspan x="201" dy="15.5">怨按时准确的完成了_汽车销售公司交付的各</tspan><tspan x="201" dy="15.5">项报表，每日核对库存情况，对车辆销售工作</tspan><tspan x="201" dy="15.5">作出了贡献。</tspan></text>
<text class="t"><tspan x="224" y="2551">20_年为完善档案管理工作，特安排_为档案</tspan><tspan x="224" dy="15.5">管理员，主要工作有收集购车用户档案、车辆</tspan><tspan x="224" dy="15.5">进销登记、合格证的收发以及用户档案汇总上</tspan><tspan x="224" dy="15.5">报_汽车销售公司等，工作期间_按照公司规</tspan><tspan x="224" dy="15.5">定，圆满完成了公司交代的工作任务。</tspan></text>
<text class="t e" x="460" y="2666">以上是对20_年各项工作做了简要总结。</text>
<text class="t"><tspan x="613" y="3022">最近一段时间公司安排下我在齐鲁阳光进行了</tspan><tspan x="613" dy="15.5">长时间的咨询学习工作，俗话说的好三人行必</tspan><tspan x="613" dy="15.5">有我师，在学习后本人结合以往工作经验，取</tspan><tspan x="613" dy="15.5">长补短，现对于20_年的工作计划做如下安</tspan><tspan x="613" dy="15.5">排：</tspan></text>
<text class="t"><tspan x="334" y="2717">1、详细了解学习汽车销售公司的商务政策，</tspan><tspan x="334" dy="15.5">并合理运用，为车辆的销售在价格方面创造有</tspan><tspan x="334" dy="15.5">利条件。</tspan></text>
<text class="t"><tspan x="334" y="2801">2、协调与_汽车销售公司各部门的工作，争</tspan><tspan x="334" dy="15.5">取优惠政策.加强我们的市场竞争力。</tspan></text>
<text class="t"><tspan x="334" y="2870">3、每日召开晨会，了解车辆销售情况，安排</tspan><tspan x="334" dy="15.5">日常工作，接受销售人员的不同见解，相互学</tspan><tspan x="334" dy="15.5">习。</tspan></text>
<text class="t"><tspan x="334" y="2952">4、销售人员的培训，每日定期_课时的培训</tspan><tspan x="334" dy="15.5">学习，以提高销售人员的销售技能、服务技能</tspan><tspan x="334" dy="15.5">、团队意识、礼仪等。</tspan></text>
<text class="t"><tspan x="334" y="3037">5、增设和发展二级销售网点，制定完整的二</tspan><tspan x="334" dy="15.5">级网点销售政策，并派驻本公司销售人员，实</tspan><tspan x="334" dy="15.5">现行销工作的突破发展，使我们的销售工作更</tspan><tspan x="334" dy="15.5">上一层楼。</tspan></text>
<text class="t"><tspan x="334" y="3136">6、合理运用资金，建立优质库存，争取资金</tspan><tspan x="334" dy="15.5">运用化。</tspan></text>
<text class="t"><tspan x="334" y="3204">7、根据_汽车销售公司制定的销售任务，对</tspan><tspan x="334" dy="15.5">现有的销售人员分配销售任务。</tspan></text>
<text class="t e" x="572" y="3272">8、重新划定卫生区域，制定卫生值日表。</text>
<text class="t"><tspan x="334" y="3371">9、一日工作模式，俗话说的好，好一日不算</tspan><tspan x="334" dy="15.5">好，日日好才是好。</tspan></text>
<text class="t"><tspan x="57" y="3325">最后，在新春到来之际，请允许我代表_汽车</tspan><tspan x="57" dy="15.5">销售公司全体销售人员，感谢公司领导和全体</tspan><tspan x="57" dy="15.5">同事，在20_年一年的工作中对我们工作的</tspan><tspan x="57" dy="15.5">大力支持与帮助。在此表示深深的谢意。在2</tspan><tspan x="57" dy="15.5">0_年新的一年当中我们将继续努力工作，虚</tspan><tspan x="57" dy="15.5">心学习，以更好的成绩来感谢领导和各位的支</tspan><tspan x="57" dy="15.5">持，再次谢谢大家，祝大家新年愉快，合家幸</tspan><tspan x="57" dy="15.5">福。</tspan></text>
</g>

<g id="branch-4">
<rect class="bx" x="886" y="3732" width="160" height="34" rx="5"/>
<text class="bt" x="892" y="3754.5">销售年终工作小结篇4</text>
<text class="t"><tspan x="613" y="3485">我来我们公司做化妆品销售已经一年多了。回</tspan><tspan x="613" dy="15.5">顾过去一年化妆品的销售，我从新人开始就能</tspan><tspan x="613" dy="15.5">做到公司的月销售冠军，也付出了很多努力。</tspan><tspan x="613" dy="15.5">现在，我来总结一下今年的工作。</tspan></text>
<text class="t e" x="852" y="3684">一、学习与进步</text>
<text class="t e" x="852" y="3998">二、工作方面</text>
<text class="t"><tspan x="490" y="3585">来公司之前，我是做房地产销售的。虽然我不</tspan><tspan x="490" dy="15.5">是特别擅长，但是有过一些经验，但是对化妆</tspan><tspan x="490" dy="15.5">品还是比较陌生。我知道如果我想做好销售，</tspan><tspan x="490" dy="15.5">我必须了解我手头的产品。如果我不了解所有</tspan><tspan x="490" dy="15.5">的产品，我就无法与客户沟通，销售他们，再</tspan><tspan x="490" dy="15.5">销售他们。因此，在过去的一年里，我对我们</tspan><tspan x="490" dy="15.5">的产品很熟悉。虽然刚进公司的时候知道一些</tspan><tspan x="490" dy="15.5">，但是不太了解。而且我只知道销售协助比较</tspan><tspan x="490" dy="15.5">多，对于如何组合销售，如何向客户推荐产品</tspan><tspan x="490" dy="15.5">不是很清楚。在这一年的工作中，我也在积极</tspan><tspan x="490" dy="15.5">的了解如何组合产品，如何根据不同的客户需</tspan><tspan x="490" dy="15.5">求推荐更合适的客户。同时也在积极学习一些</tspan><tspan x="490" dy="15.5">关于化妆品的销售技巧。毕竟和我之前的销售</tspan><tspan x="490" dy="15.5">还是有些差距的。</tspan></text>
<text class="t"><tspan x="502" y="3836">在工作中，因为一开始对产品不熟悉，销售业</tspan><tspan x="502" dy="15.5">绩比较差，可以说是拖累了我们的销售团队。</tspan><tspan x="502" dy="15.5">但是，我知道差不代表以后会一直这样，所以</tspan><tspan x="502" dy="15.5">我在工作中不断学习，不断改进方法，让自己</tspan><tspan x="502" dy="15.5">更熟悉产品，更熟悉我们的客户群体。上半年</tspan><tspan x="502" dy="15.5">结束，我的表现已经有了很大的飞跃。在我们</tspan><tspan x="502" dy="15.5">销售部，业绩名列前茅，但我不满意。我知道</tspan><tspan x="502" dy="15.5">自己之前欠的太多，所以下半年会继续努力，</tspan><tspan x="502" dy="15.5">超额完成当月任务，补上之前的业绩，全年也</tspan><tspan x="502" dy="15.5">完成了领导布置的销售任务，同时也始终做到</tspan><tspan x="502" dy="15.5">了下半年在部门的销售业绩。</tspan></text>
<text class="t"><tspan x="502" y="4043">今年年底，我在化妆品销售方面取得了一些成</tspan><tspan x="502" dy="15.5">绩，但我知道这不值得夸耀。我还有很多东西</tspan><tspan x="502" dy="15.5">要学，不仅在我们销售部，在公司也是。这个</tspan><tspan x="502" dy="15.5">行业还是有很多比我优秀的。我会继续学习提</tspan><tspan x="502" dy="15.5">高自己，让自己在未来的一年里进一步提高销</tspan><tspan x="502" dy="15.5">售业绩，做得更好。</tspan></text>
</g>
</g>
</svg>
